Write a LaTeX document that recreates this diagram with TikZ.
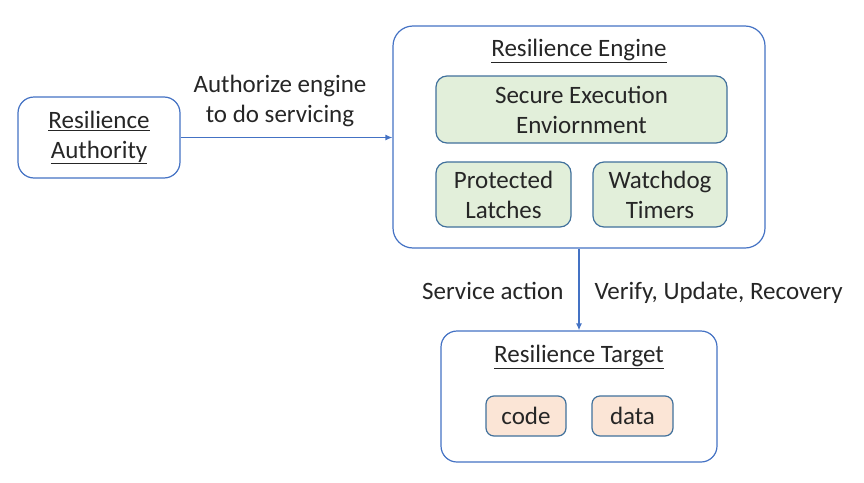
\documentclass[tikz,border=0pt]{standalone}
\usepackage{fontspec}
\setmainfont{Carlito}
\usetikzlibrary{arrows.meta}
\definecolor{edgeblue}{HTML}{4472C4}
\definecolor{boxline}{HTML}{41719C}
\definecolor{seegreen}{HTML}{E2EFDA}
\definecolor{dataorange}{HTML}{FBE5D6}
\definecolor{textgrey}{HTML}{262626}

\begin{document}
\begin{tikzpicture}[x=1pt, y=1pt,
	every node/.style={font=\fontsize{25}{30}\selectfont, text=textgrey, align=center},
	outerbox/.style={draw=edgeblue, line width=1.2pt, rounded corners=16pt, fill=white},
	greenbox/.style={draw=boxline, line width=1.2pt, rounded corners=11pt, fill=seegreen},
	orangebox/.style={draw=boxline, line width=1.2pt, rounded corners=8pt, fill=dataorange},
	link/.style={draw=edgeblue, line width=1.2pt, -{Latex[length=7pt, width=6pt]}}]
		%%%%% START %%%%%
		
		\useasboundingbox (0, 0) rectangle (864, -482);
		
		\node[outerbox, minimum width=162, minimum height=81] (auth) at (99, -137.5) {\underline{Resilience}\\\underline{Authority}};
		
		\node[outerbox, rounded corners=20pt, minimum width=372, minimum height=222] (engine) at (579, -137) {};
		\node (enginetitle) at (579, -51) {\underline{Resilience Engine}};
		\node[greenbox, minimum width=291, minimum height=67] (see) at (581.5, -109.5) {Secure Execution\\Enviornment};
		\node[greenbox, minimum width=135, minimum height=65] (latch) at (503.5, -194.5) {Protected\\Latches};
		\node[greenbox, minimum width=134, minimum height=65] (watch) at (660, -194.5) {Watchdog\\Timers};
		
		\node[outerbox, minimum width=276, minimum height=131] (target) at (579, -396.5) {};
		\node (targettitle) at (579, -357) {\underline{Resilience Target}};
		\node[orangebox, minimum width=80, minimum height=40] (code) at (526, -416) {code};
		\node[orangebox, minimum width=81, minimum height=40] (data) at (632.5, -416) {data};
		
		\draw[link] (auth.east) -- (auth.east -| engine.west);
		\node (authlabel) at (280, -101) {Authorize engine\\to do servicing};
		
		\draw[link] (engine.south) -- (target.north);
		\node[anchor=base east] (servlabel) at (567, -299) {Service action};
		\node[anchor=base west] (verlabel) at (591, -299) {Verify, Update, Recovery};
		
		%%%%% END %%%%%
	\end{tikzpicture}
\end{document}
